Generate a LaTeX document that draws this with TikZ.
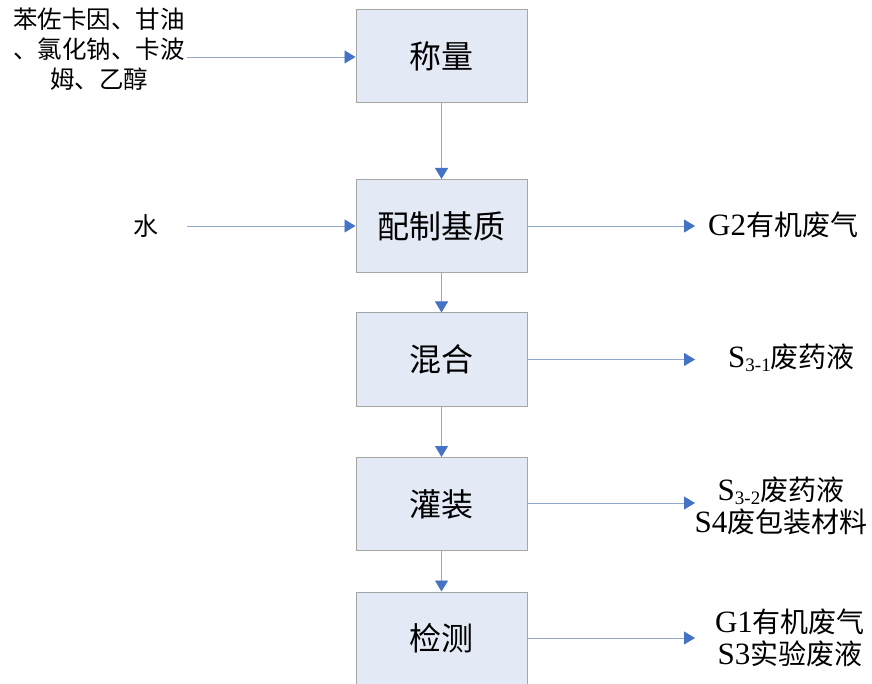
\documentclass[tikz,border=0pt]{standalone}
\usepackage{fontspec}
\setmainfont{Liberation Serif}
\newfontfamily\cjk{Noto Sans CJK SC}
\usetikzlibrary{arrows.meta}
\definecolor{boxfill}{HTML}{E4EAF5}
\definecolor{boxdraw}{HTML}{A6A6A6}
\definecolor{linecol}{HTML}{8FA8CC}
\definecolor{tipcol}{HTML}{4472C4}
\newcommand{\sub}[1]{\raisebox{-0.3ex}{\fontsize{19}{19}\selectfont #1}}
\newcommand{\cj}[1]{{\cjk\fontsize{28}{32}\selectfont #1}}
\begin{document}
\begin{tikzpicture}[x=1pt,y=-1pt,
  proc/.style={draw=boxdraw, fill=boxfill, line width=1pt, minimum width=171pt, minimum height=93pt, font=\cjk\fontsize{32}{34}\selectfont, inner sep=0pt},
  flow/.style={draw=linecol, line width=0.8pt, -{Triangle[length=11pt,width=13pt,color=tipcol,fill=tipcol]}},
  lbl/.style={font=\fontsize{31}{32}\selectfont, align=center, inner sep=0pt}]
\useasboundingbox (0,0) rectangle (872,684);
\node[proc] (w) at (441.5,56.5) {称量};
\node[proc] (p) at (441.5,226) {配制基质};
\node[proc] (m) at (441.5,359.5) {混合};
\node[proc] (f) at (441.5,504) {灌装};
\node[proc] (t) at (441.5,638.5) {检测};
\draw[flow] (w) -- (p);
\draw[flow] (p) -- (m);
\draw[flow] (m) -- (f);
\draw[flow] (f) -- (t);
\node[lbl, font=\cjk\fontsize{24.5}{30}\selectfont] (in) at (99,49.5) {苯佐卡因、甘油\\、氯化钠、卡波\\姆、乙醇};
\coordinate (inS) at (187,57);
\draw[flow] (inS) -- (w.west |- inS);
\node[lbl, font=\cjk\fontsize{25}{30}\selectfont] (water) at (145.5,226) {水};
\coordinate (waS) at (187,226);
\draw[flow] (waS) -- (p.west);
\coordinate (gE) at (695,226);
\draw[flow] (p.east) -- (gE);
\node[lbl, anchor=west] (g2) at (708,225) {G2\cj{有机废气}};
\coordinate (mE) at (695,359.5);
\draw[flow] (m.east) -- (mE);
\node[lbl] (s31) at (791.5,358) {S\sub{3-1}\cj{废药液}};
\coordinate (fE) at (695,503);
\draw[flow] (f.east |- fE) -- (fE);
\node[lbl] (s32) at (781,506) {S\sub{3-2}\cj{废药液}\\S4\cj{废包装材料}};
\coordinate (tE) at (695,638);
\draw[flow] (t.east |- tE) -- (tE);
\node[lbl] (g1) at (790,638) {G1\cj{有机废气}\\S3\cj{实验废液}};
\end{tikzpicture}
\end{document}
